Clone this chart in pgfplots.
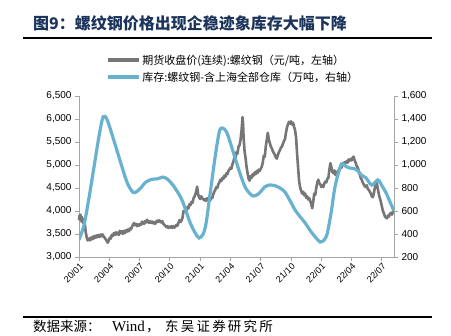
\documentclass[border=0pt]{standalone}
\usepackage{fontspec}
\usepackage{pgfplots}
\pgfplotsset{compat=1.18}
\setmainfont{Liberation Sans}
\newfontfamily\cjk{Noto Sans CJK SC}
\newfontfamily\serifw{Liberation Serif}
\definecolor{pricegray}{RGB}{118,118,118}
\definecolor{invblue}{RGB}{104,178,207}
\definecolor{titleblue}{RGB}{28,52,92}
\definecolor{axisgray}{RGB}{165,165,165}

\pgfplotstableread{
m v
0.00 3800
0.05 3900
0.10 3850
0.15 3920
0.20 3780
0.25 3880
0.30 3760
0.35 3840
0.40 3740
0.50 3760
0.60 3690
0.65 3560
0.75 3440
0.85 3360
0.95 3400
1.05 3360
1.15 3420
1.25 3380
1.35 3440
1.45 3400
1.55 3460
1.65 3420
1.75 3470
1.85 3430
1.95 3480
2.05 3440
2.15 3490
2.25 3450
2.35 3490
2.45 3440
2.55 3420
2.65 3380
2.75 3350
2.85 3310
2.95 3360
3.05 3420
3.15 3400
3.25 3480
3.35 3460
3.45 3520
3.55 3480
3.65 3540
3.75 3490
3.85 3530
3.95 3480
4.05 3570
4.15 3520
4.25 3560
4.35 3500
4.45 3570
4.55 3520
4.65 3580
4.75 3550
4.85 3600
4.95 3560
5.05 3620
5.15 3600
5.25 3660
5.35 3700
5.45 3740
5.55 3690
5.65 3720
5.75 3670
5.85 3710
5.95 3680
6.05 3720
6.15 3700
6.25 3770
6.35 3740
6.45 3720
6.55 3780
6.65 3750
6.75 3810
6.85 3760
6.95 3740
7.05 3780
7.15 3740
7.25 3770
7.35 3730
7.45 3760
7.55 3720
7.65 3770
7.75 3790
7.85 3760
7.95 3800
8.05 3770
8.15 3750
8.25 3780
8.35 3720
8.45 3700
8.55 3680
8.65 3650
8.75 3670
8.85 3630
8.95 3660
9.05 3640
9.15 3670
9.25 3630
9.35 3670
9.45 3640
9.55 3660
9.65 3700
9.75 3680
9.85 3740
9.95 3800
10.05 3760
10.15 3790
10.25 3850
10.35 4000
10.45 3980
10.55 4040
10.65 4010
10.75 4090
10.85 4060
10.95 4150
11.05 4130
11.15 4200
11.25 4180
11.35 4280
11.45 4320
11.55 4380
11.65 4470
11.70 4530
11.80 4360
11.90 4300
12.00 4260
12.10 4320
12.20 4280
12.30 4260
12.40 4230
12.50 4260
12.60 4220
12.70 4280
12.80 4240
12.90 4260
13.00 4230
13.10 4300
13.20 4280
13.30 4360
13.40 4420
13.50 4460
13.60 4520
13.70 4500
13.80 4580
13.90 4620
14.00 4680
14.10 4650
14.20 4720
14.30 4700
14.40 4770
14.50 4740
14.60 4820
14.70 4800
14.80 4870
14.90 4900
15.00 4940
15.10 4920
15.20 5020
15.30 5080
15.40 5170
15.50 5150
15.60 5280
15.70 5250
15.80 5400
15.90 5430
16.00 5550
16.10 5750
16.20 6040
16.25 5900
16.30 5600
16.40 5300
16.50 5150
16.60 4950
16.70 4820
16.80 4700
16.90 4660
17.00 4760
17.10 4720
17.20 4800
17.30 4770
17.40 4840
17.50 4800
17.60 4870
17.70 4830
17.80 4900
17.90 4870
18.00 4920
18.10 4960
18.20 5050
18.30 5200
18.40 5180
18.50 5400
18.60 5550
18.70 5700
18.80 5550
18.90 5480
19.00 5400
19.10 5360
19.20 5300
19.30 5260
19.40 5220
19.50 5160
19.60 5140
19.70 5220
19.80 5280
19.90 5320
20.00 5380
20.10 5400
20.20 5460
20.30 5520
20.40 5560
20.50 5700
20.60 5820
20.70 5880
20.80 5940
20.90 5900
21.00 5950
21.10 5880
21.20 5920
21.30 5830
21.40 5760
21.50 5600
21.60 5250
21.70 4950
21.80 4650
21.90 4520
22.00 4440
22.10 4380
22.20 4420
22.30 4340
22.40 4380
22.50 4290
22.60 4320
22.70 4250
22.80 4280
22.90 4220
23.00 4150
23.10 4060
23.20 4200
23.30 4380
23.40 4350
23.50 4500
23.60 4620
23.70 4680
23.80 4600
23.90 4580
24.00 4520
24.10 4560
24.20 4520
24.30 4600
24.40 4640
24.50 4620
24.60 4700
24.70 4720
24.80 4900
24.90 5040
25.00 4950
25.10 4850
25.20 4820
25.30 4880
25.40 4780
25.50 4850
25.60 4820
25.70 4880
25.80 4920
25.90 4960
26.00 4940
26.10 5020
26.20 5000
26.30 5060
26.40 5040
26.50 5080
26.60 5050
26.70 5120
26.80 5090
26.90 5130
27.00 5100
27.10 5160
27.20 5180
27.30 5100
27.40 5050
27.50 4980
27.60 4950
27.70 4880
27.80 4800
27.90 4720
28.00 4680
28.10 4620
28.20 4580
28.30 4540
28.40 4520
28.50 4560
28.60 4480
28.70 4460
28.80 4420
28.90 4380
29.00 4320
29.10 4300
29.20 4380
29.30 4500
29.40 4620
29.50 4600
29.60 4480
29.70 4360
29.80 4280
29.90 4200
30.00 4100
30.10 4000
30.20 3950
30.30 3880
30.40 3860
30.50 3840
30.60 3900
30.70 3880
30.80 3940
30.90 3960
31.00 3920
31.10 3990
31.20 4020
}\pricetable

\pgfplotstableread{
m v
0.0 350
0.5 480
1.0 720
1.5 990
2.0 1260
2.4 1420
2.8 1390
3.5 1200
4.2 1000
4.8 840
5.4 760
6.0 790
6.6 850
7.2 875
7.8 880
8.3 895
8.8 875
9.3 826
9.8 760
10.2 696
10.6 600
11.0 500
11.5 410
11.9 365
12.3 400
12.6 500
13.0 760
13.5 1080
13.9 1290
14.2 1322
14.6 1290
15.0 1190
15.5 1050
16.0 913
16.5 800
17.0 745
17.3 730
17.8 750
18.4 809
18.9 826
19.4 820
19.9 800
20.4 765
20.9 690
21.4 609
21.9 550
22.4 496
22.9 430
23.4 374
23.9 330
24.3 350
24.6 409
25.0 600
25.3 783
25.6 900
26.0 1010
26.4 990
26.8 974
27.2 970
27.6 950
28.0 910
28.4 890
29.0 826
29.6 870
30.0 820
30.4 760
30.8 680
31.2 600
}\invtable

\begin{document}
\begin{tikzpicture}[x=1pt,y=1pt]
\useasboundingbox (0,0) rectangle (451,336);
\node[anchor=west, font=\cjk\bfseries\fontsize{16}{18}\selectfont, text=titleblue, inner sep=0] at (33,313) {图9：螺纹钢价格出现企稳迹象库存大幅下降};
\draw[line width=1.5pt] (23,298) -- (432,298);
\draw[line width=1.2pt] (23,19) -- (432,19);
\node[anchor=base west, inner sep=0, font=\cjk\fontsize{13.5}{15}\selectfont] at (33,4) {数据来源：};
\node[anchor=base west, inner sep=0, font=\serifw\fontsize{15}{17}\selectfont] at (112,4) {Wind};
\node[anchor=base west, inner sep=0, font=\cjk\fontsize{13.5}{15}\selectfont] at (146,4) {，};
\node[anchor=base west, inner sep=0, font=\cjk\fontsize{13.5}{15}\selectfont] at (165,4) {东\hspace{2.2pt}吴\hspace{2.2pt}证\hspace{2.2pt}券\hspace{2.2pt}研\hspace{2.2pt}究\hspace{2.2pt}所};

\begin{axis}[
  at={(79pt,79pt)}, anchor=south west,
  scale only axis, width=315pt, height=161pt,
  xmin=0, xmax=31.2, ymin=3000, ymax=6500,
  axis x line*=bottom, axis y line*=left,
  axis line style={axisgray, line width=0.8pt},
  tick style={axisgray, line width=0.8pt},
  tick align=outside, major tick length=4pt,
  xtick={0,3,6,9,12,15,18,21,24,27,30},
  xticklabels={20/01,20/04,20/07,20/10,21/01,21/04,21/07,21/10,22/01,22/04,22/07},
  xticklabel style={rotate=45, anchor=north east, font=\fontsize{9}{10}\selectfont, inner sep=1pt},
  ytick={3000,3500,...,6500},
  yticklabel style={font=\fontsize{10}{12}\selectfont},
  /pgf/number format/assume math mode=true,
  /pgf/number format/1000 sep={,},
  scaled y ticks=false,
  clip=false,
]
\addplot[pricegray, line width=2.6pt, line join=round] table[x=m,y=v] {\pricetable};
\end{axis}

\begin{axis}[
  at={(79pt,79pt)}, anchor=south west,
  scale only axis, width=315pt, height=161pt,
  xmin=0, xmax=31.2, ymin=200, ymax=1600,
  axis x line=none, axis y line*=right, xtick=\empty,
  axis line style={axisgray, line width=0.8pt},
  tick style={axisgray, line width=0.8pt},
  tick align=outside, major tick length=4pt,
  ytick={200,400,...,1600},
  yticklabel style={font=\fontsize{10}{12}\selectfont},
  /pgf/number format/assume math mode=true,
  /pgf/number format/1000 sep={,},
  scaled y ticks=false,
  legend style={at={(0.489,1.07)}, anchor=south, draw=none, fill=none,
    font=\cjk\fontsize{11}{12}\selectfont, row sep=2pt, inner sep=0pt},
  legend cell align=left,
  legend image code/.code={\draw[#1] (0pt,0pt) -- (31pt,0pt);},
]
\addlegendimage{pricegray, line width=3.5pt}
\addlegendentry{期货收盘价(连续):螺纹钢（元/吨，左轴）}
\addplot[invblue, line width=3.2pt, smooth, tension=0.5] table[x=m,y=v] {\invtable};
\addlegendentry{库存:螺纹钢-含上海全部仓库（万吨，右轴）}
\end{axis}
\end{tikzpicture}
\end{document}
